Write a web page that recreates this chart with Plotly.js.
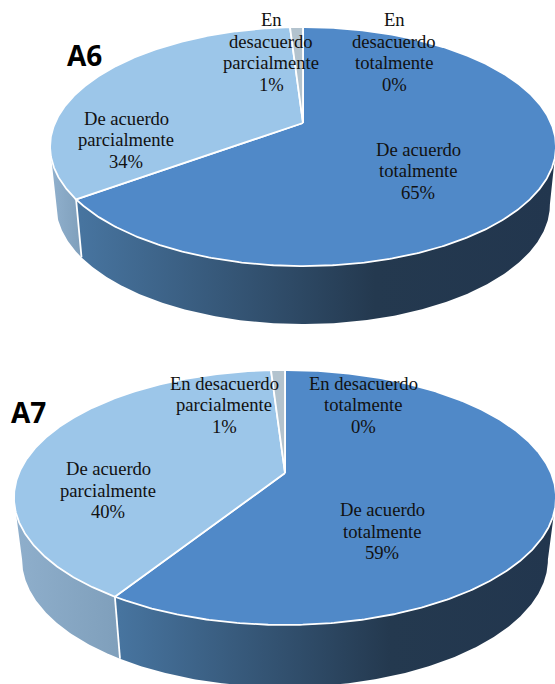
<!DOCTYPE html>
<html>
<head>
<meta charset="utf-8">
<script src="https://cdn.plot.ly/plotly-3.0.1.min.js"></script>
<style>html,body{margin:0;padding:0;background:#fff}#chart{width:555px;height:684px}</style>
</head>
<body>
<div id="chart"></div>
<script>
// Survey answers, in percent, clockwise from twelve o'clock
const categories = ["De acuerdo totalmente", "De acuerdo parcialmente", "En desacuerdo parcialmente", "En desacuerdo totalmente"];
const valuesA6 = [65, 34, 1, 0];
const valuesA7 = [59, 40, 1, 0];

// Line-broken label text for each pie
const labelLinesA6 = [["De acuerdo", "totalmente"], ["De acuerdo", "parcialmente"], ["En", "desacuerdo", "parcialmente"], ["En", "desacuerdo", "totalmente"]];
const labelLinesA7 = [["De acuerdo", "totalmente"], ["De acuerdo", "parcialmente"], ["En desacuerdo", "parcialmente"], ["En desacuerdo", "totalmente"]];

// Perspective disc: cx/ay = hub, R/Ry = radii, k = perspective strength
const discA6 = {cx: 303, ay: 123, R: 248, Ry: 114.9, k: 0.197, depth: 58, shrink: 0.976,
  labelX: [418, 126, 271, 394], labelY: [170.5, 139.5, 52, 52], title: "A6", titleX: 84, titleY: 55};
const discA7 = {cx: 285, ay: 473, R: 266, Ry: 122.8, k: 0.192, depth: 62, shrink: 0.97,
  labelX: [382, 108, 224, 363], labelY: [531, 490, 404.5, 404.5], title: "A7", titleX: 28, titleY: 412};

const faceColors = ["#5089C8", "#9CC6E9", "#B3C3CE", "#8FA9C4"];
const wallGradients = [
  [[0, "#47749F"], [0.62, "#24394F"], [1, "#22364E"]],
  [[0, "#8EAECB"], [1, "#7F9FBB"]]
];
const serif = "Liberation Serif, serif";
const labelSize = 18.6, lineStep = 21.5;

function project(d, deg, rim) {
  const t = deg * Math.PI / 180, u = Math.sin(t), v = -Math.cos(t);
  const w = 1 - d.k * v;
  const x = d.R * u / w, y = d.Ry * v / w;
  return rim
    ? [d.cx + x * d.shrink, d.ay + y + d.depth]
    : [d.cx + x, d.ay + y];
}

function arc(d, a, b, rim) {
  const pts = [], n = Math.max(2, Math.ceil(Math.abs(b - a) * 2));
  for (let i = 0; i <= n; i++) pts.push(project(d, a + (b - a) * i / n, rim));
  return pts;
}

function addPie(traces, annotations, d, values, lines) {
  const total = values.reduce((s, v) => s + v, 0);
  const edgeR = Math.acos(-d.k) * 180 / Math.PI, edgeL = 360 - edgeR;
  const xmin = d.cx - d.R, xmax = 555;
  let start = 0;
  const spans = values.map(v => { const s = [start, start + v / total * 360]; start = s[1]; return s; });

  // Side walls: only the arc that faces the viewer
  spans.forEach((s, i) => {
    const a = Math.max(s[0], edgeR), b = Math.min(s[1], edgeL);
    if (b <= a || i > 1) return;
    const pts = arc(d, a, b, false).concat(arc(d, b, a, true));
    pts.push(pts[0]);
    traces.push({
      type: "scatter", mode: "lines", fill: "toself", name: categories[i], hoverinfo: "skip",
      x: pts.map(p => p[0]), y: pts.map(p => p[1]),
      line: {width: 0, color: "rgba(0,0,0,0)"},
      fillcolor: wallGradients[i][0][1],
      fillgradient: {type: "horizontal", colorscale: wallGradients[i],
        start: i === 0 ? project(d, s[1], true)[0] : xmin, stop: i === 0 ? xmax : project(d, s[0], true)[0]}
    });
  });

  // White seam where the two visible walls meet
  const seamAt = spans[0][1], seamTop = project(d, seamAt, false), seamBottom = project(d, seamAt, true);
  traces.push({type: "scatter", mode: "lines", hoverinfo: "skip",
    x: [seamTop[0], seamBottom[0]], y: [seamTop[1], seamBottom[1]],
    line: {color: "#fff", width: 1.8}});

  // Top faces, skipping empty slices
  spans.forEach((s, i) => {
    if (s[1] <= s[0]) return;
    const pts = [[d.cx, d.ay]].concat(arc(d, s[0], s[1], false));
    pts.push(pts[0]);
    traces.push({
      type: "scatter", mode: "lines", fill: "toself", name: categories[i], hoverinfo: "skip",
      x: pts.map(p => p[0]), y: pts.map(p => p[1]),
      fillcolor: faceColors[i], line: {color: "#fff", width: 1.8}
    });
  });

  // Each label line is placed on its own so the leading stays tight
  values.forEach((v, i) => {
    const rows = lines[i].concat([v + "%"]);
    rows.forEach((row, r) => annotations.push({
      xref: "x", yref: "y", x: d.labelX[i], y: d.labelY[i] + (r - (rows.length - 1) / 2) * lineStep,
      showarrow: false, xanchor: "center", yanchor: "middle", align: "center",
      text: row, font: {family: serif, size: labelSize, color: "#111"}
    }));
  });
  annotations.push({
    xref: "x", yref: "y", x: d.titleX, y: d.titleY, showarrow: false,
    xanchor: "center", yanchor: "middle", text: "<b>" + d.title + "</b>",
    font: {family: "Open Sans, sans-serif", size: 28, color: "#000"}
  });
}

const traces = [], annotations = [];
addPie(traces, annotations, discA6, valuesA6, labelLinesA6);
addPie(traces, annotations, discA7, valuesA7, labelLinesA7);

Plotly.newPlot("chart", traces, {
  width: 555, height: 684, showlegend: false,
  margin: {l: 0, r: 0, t: 0, b: 0},
  paper_bgcolor: "#fff", plot_bgcolor: "#fff",
  xaxis: {range: [0, 555], visible: false, fixedrange: true},
  yaxis: {range: [684, 0], visible: false, fixedrange: true},
  annotations: annotations
}, {staticPlot: true, displayModeBar: false});
</script>
</body>
</html>
